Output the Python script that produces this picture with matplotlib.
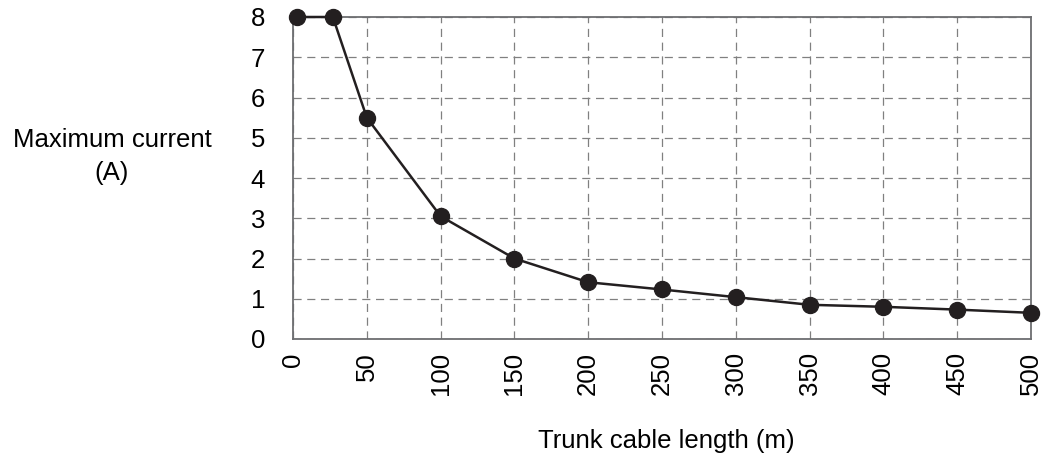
import matplotlib.pyplot as plt

plt.rcParams['font.family'] = ['Liberation Sans', 'DejaVu Sans']

# Trunk cable length (m) vs maximum allowed current (A)
length_m = [3, 27, 50, 100, 150, 200, 250, 300, 350, 400, 450, 500]
current_a = [8.0, 8.0, 5.5, 3.05, 2.0, 1.41, 1.23, 1.04, 0.85, 0.80, 0.73, 0.65]
x_ticks = [0, 50, 100, 150, 200, 250, 300, 350, 400, 450, 500]
y_ticks = [0, 1, 2, 3, 4, 5, 6, 7, 8]

W, H = 1051, 459
fs = 18.5

fig = plt.figure(figsize=(W / 100, H / 100), dpi=100)
ax = fig.add_axes([293 / W, 1 - 339 / H, (1031 - 293) / W, (339 - 17) / H])

ax.plot(length_m, current_a, color='#231f20', linewidth=1.8, marker='o',
        markersize=11.5, markerfacecolor='#231f20', markeredgecolor='#231f20',
        clip_on=False, zorder=3)

ax.set_xlim(0, 500)
ax.set_ylim(0, 8)
ax.set_xticks(x_ticks)
ax.set_yticks(y_ticks)
ax.set_xticklabels([str(v) for v in x_ticks], rotation=90, fontsize=fs)
ax.set_yticklabels([str(v) for v in y_ticks], fontsize=fs)
ax.tick_params(axis='both', length=0)
ax.tick_params(axis='x', pad=9.5)
ax.tick_params(axis='y', pad=20)

ax.grid(True, linestyle=(0, (6.5, 4.5)), color='#808080', linewidth=0.9)
for side in ['left', 'bottom', 'right', 'top']:
    ax.spines[side].set_color('#6d6e71')
    ax.spines[side].set_linewidth(1.3)

# y-axis title, written horizontally on two lines
fig.text(112 / W, 1 - 147 / H, 'Maximum current', ha='center', va='baseline', fontsize=fs)
fig.text(112 / W, 1 - 180 / H, '(A)', ha='center', va='baseline', fontsize=fs)
fig.text(666 / W, 1 - 448 / H, 'Trunk cable length (m)', ha='center', va='baseline',
         fontsize=fs)

fig.savefig('out.png', dpi=100)
